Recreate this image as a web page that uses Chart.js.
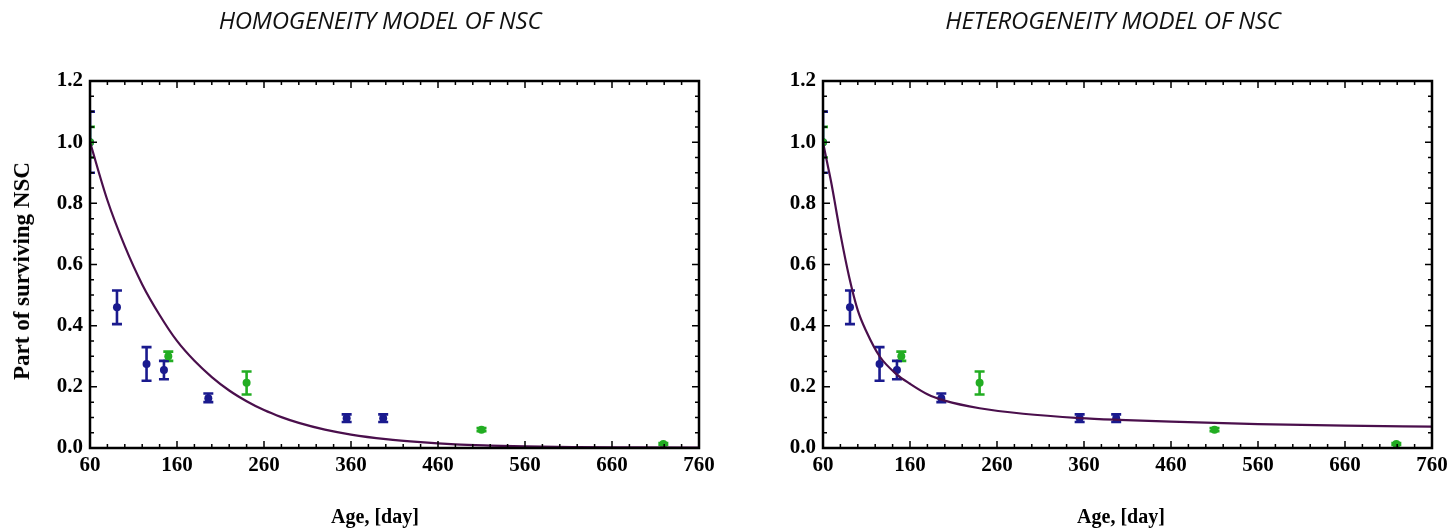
<!DOCTYPE html>
<html>
<head>
<meta charset="utf-8">
<script src="https://cdn.jsdelivr.net/npm/chart.js@4.4.0/dist/chart.umd.min.js"></script>
<style>
  body { margin: 0; background: #fff; width: 1456px; height: 530px; overflow: hidden; position: relative; }
  .panel { position: absolute; top: 0; width: 728px; height: 530px; }
  .title { position: absolute; top: 3px; font-family: "Open Sans", sans-serif; font-style: italic; font-size: 24px; letter-spacing: -0.2px; color: #111; white-space: nowrap; transform: translateX(-50%); }
  .xlabel { position: absolute; top: 505px; font-family: "Liberation Serif", serif; font-weight: bold; font-size: 20px; color: #000; white-space: nowrap; transform: translateX(-50%); }
  .ylabel { position: absolute; left: 22px; top: 271px; font-family: "Liberation Serif", serif; font-weight: bold; font-size: 23px; color: #000; white-space: nowrap; transform: translate(-50%, -50%) rotate(-90deg); }
</style>
</head>
<body>
<div class="panel" style="left:0"><canvas id="homChart" width="728" height="530"></canvas></div>
<div class="panel" style="left:728px"><canvas id="hetChart" width="728" height="530"></canvas></div>
<div class="title" style="left:380px">HOMOGENEITY MODEL OF NSC</div>
<div class="title" style="left:1113px">HETEROGENEITY MODEL OF NSC</div>
<div class="xlabel" style="left:375px">Age, [day]</div>
<div class="xlabel" style="left:1121px">Age, [day]</div>
<div class="ylabel">Part of surviving NSC</div>

<script>
// --- DATA ---
// Tick labels
const xTicks = [60, 160, 260, 360, 460, 560, 660, 760];
const yTicks = [0.0, 0.2, 0.4, 0.6, 0.8, 1.0, 1.2];

// Blue experimental series (age, mean, low, high)
const blueAge  = [60, 91, 125, 145, 196, 355, 397];
const blueVal  = [1.00, 0.46, 0.275, 0.255, 0.163, 0.097, 0.097];
const blueLow  = [0.90, 0.405, 0.22, 0.225, 0.15, 0.085, 0.085];
const blueHigh = [1.10, 0.515, 0.33, 0.285, 0.178, 0.11, 0.11];

// Green experimental series
const greenAge  = [60, 150, 240, 510, 719];
const greenVal  = [1.00, 0.30, 0.213, 0.06, 0.013];
const greenLow  = [0.95, 0.285, 0.175, 0.055, 0.010];
const greenHigh = [1.05, 0.315, 0.25, 0.065, 0.016];

// Model curve, homogeneity
const homAge = [60, 80, 100, 120, 140, 160, 180, 200, 220, 240, 260, 280, 300, 330, 360, 400, 440, 480, 520, 560, 620, 690, 760];
const homVal = [1.00, 0.81, 0.66, 0.535, 0.435, 0.35, 0.285, 0.232, 0.188, 0.153, 0.124, 0.101, 0.082, 0.060, 0.044, 0.029, 0.019, 0.012, 0.008, 0.005, 0.003, 0.002, 0.001];

// Model curve, heterogeneity
const hetAge = [60, 65, 70, 75, 80, 90, 100, 110, 125, 145, 160, 180, 200, 240, 290, 355, 400, 460, 560, 660, 760];
const hetVal = [1.00, 0.93, 0.86, 0.78, 0.70, 0.56, 0.45, 0.38, 0.30, 0.24, 0.21, 0.176, 0.155, 0.13, 0.112, 0.098, 0.092, 0.086, 0.078, 0.073, 0.070];

// --- COLOURS ---
const BLUE = '#1a1a8e';
const GREEN = '#22ad22';
const CURVE = '#4a0f4c';

const toXY = (xs, ys) => xs.map((x, i) => ({ x: x, y: ys[i] }));

// --- PLUGINS ---
// Vertical error bars with caps, positioned through the chart's scales
const errorBarPlugin = {
    id: 'errorBars',
    beforeDatasetsDraw(chart) {
        const { ctx, scales: { x, y } } = chart;
        ctx.save();
        ctx.beginPath();
        ctx.rect(chart.chartArea.left, chart.chartArea.top, chart.chartArea.width, chart.chartArea.height);
        ctx.clip();
        chart.data.datasets.forEach(ds => {
            if (!ds.errLow) return;
            ctx.strokeStyle = ds.borderColor;
            ctx.lineWidth = 2.6;
            ds.data.forEach((p, i) => {
                const px = x.getPixelForValue(p.x);
                const y1 = y.getPixelForValue(ds.errLow[i]);
                const y2 = y.getPixelForValue(ds.errHigh[i]);
                ctx.beginPath();
                ctx.moveTo(px, y1); ctx.lineTo(px, y2);
                ctx.moveTo(px - 5, y1); ctx.lineTo(px + 5, y1);
                ctx.moveTo(px - 5, y2); ctx.lineTo(px + 5, y2);
                ctx.stroke();
            });
        });
        ctx.restore();
    }
};

// Black frame with inward major/minor ticks on all four sides
const framePlugin = {
    id: 'frame',
    afterDraw(chart) {
        const { ctx, chartArea: a, scales: { x, y } } = chart;
        ctx.save();
        ctx.strokeStyle = '#000';
        ctx.lineWidth = 1.5;
        ctx.beginPath();
        for (let v = 60; v <= 760; v += 20) {
            const px = x.getPixelForValue(v);
            const len = (v - 60) % 100 === 0 ? 7 : 4;
            ctx.moveTo(px, a.bottom); ctx.lineTo(px, a.bottom - len);
            ctx.moveTo(px, a.top); ctx.lineTo(px, a.top + len);
        }
        for (let k = 0; k <= 24; k++) {
            const py = y.getPixelForValue(k * 0.05);
            const len = k % 4 === 0 ? 7 : 4;
            ctx.moveTo(a.left, py); ctx.lineTo(a.left + len, py);
            ctx.moveTo(a.right, py); ctx.lineTo(a.right - len, py);
        }
        ctx.stroke();
        ctx.lineWidth = 2.5;
        ctx.strokeRect(a.left, a.top, a.width, a.height);
        ctx.restore();
    }
};

function buildChart(canvasId, curveAge, curveVal, leftWidth, rightPad) {
    return new Chart(document.getElementById(canvasId), {
        type: 'scatter',
        data: {
            datasets: [
                {
                    label: 'model',
                    data: toXY(curveAge, curveVal),
                    showLine: true,
                    borderColor: CURVE,
                    borderWidth: 2.2,
                    pointRadius: 0,
                    cubicInterpolationMode: 'monotone',
                    order: 1
                },
                {
                    label: 'green',
                    data: toXY(greenAge, greenVal),
                    errLow: greenLow,
                    errHigh: greenHigh,
                    backgroundColor: GREEN,
                    borderColor: GREEN,
                    pointRadius: 4,
                    borderWidth: 0,
                    order: 2
                },
                {
                    label: 'blue',
                    data: toXY(blueAge, blueVal),
                    errLow: blueLow,
                    errHigh: blueHigh,
                    backgroundColor: BLUE,
                    borderColor: BLUE,
                    pointRadius: 4,
                    borderWidth: 0,
                    order: 3
                }
            ]
        },
        options: {
            responsive: false,
            animation: false,
            events: [],
            layout: { padding: { top: 81, right: rightPad, left: 0, bottom: 0 } },
            plugins: { legend: { display: false }, tooltip: { enabled: false } },
            scales: {
                x: {
                    type: 'linear',
                    min: 60, max: 760,
                    grid: { display: false, drawTicks: false },
                    border: { display: false },
                    afterBuildTicks: s => { s.ticks = xTicks.map(v => ({ value: v })); },
                    afterFit: s => { s.height = 530 - 448; },
                    ticks: {
                        padding: 5,
                        maxRotation: 0,
                        color: '#000',
                        font: { family: 'Liberation Serif', weight: 'bold', size: 21 }
                    }
                },
                y: {
                    type: 'linear',
                    min: 0, max: 1.2,
                    grid: { display: false, drawTicks: false },
                    border: { display: false },
                    afterBuildTicks: s => { s.ticks = yTicks.map(v => ({ value: v })); },
                    afterFit: s => { s.width = leftWidth; },
                    ticks: {
                        padding: 7,
                        color: '#000',
                        font: { family: 'Liberation Serif', weight: 'bold', size: 21 },
                        callback: v => Number(v).toFixed(1)
                    }
                }
            }
        },
        plugins: [errorBarPlugin, framePlugin]
    });
}

buildChart('homChart', homAge, homVal, 90, 29);
buildChart('hetChart', hetAge, hetVal, 95, 24);
</script>
</body>
</html>
